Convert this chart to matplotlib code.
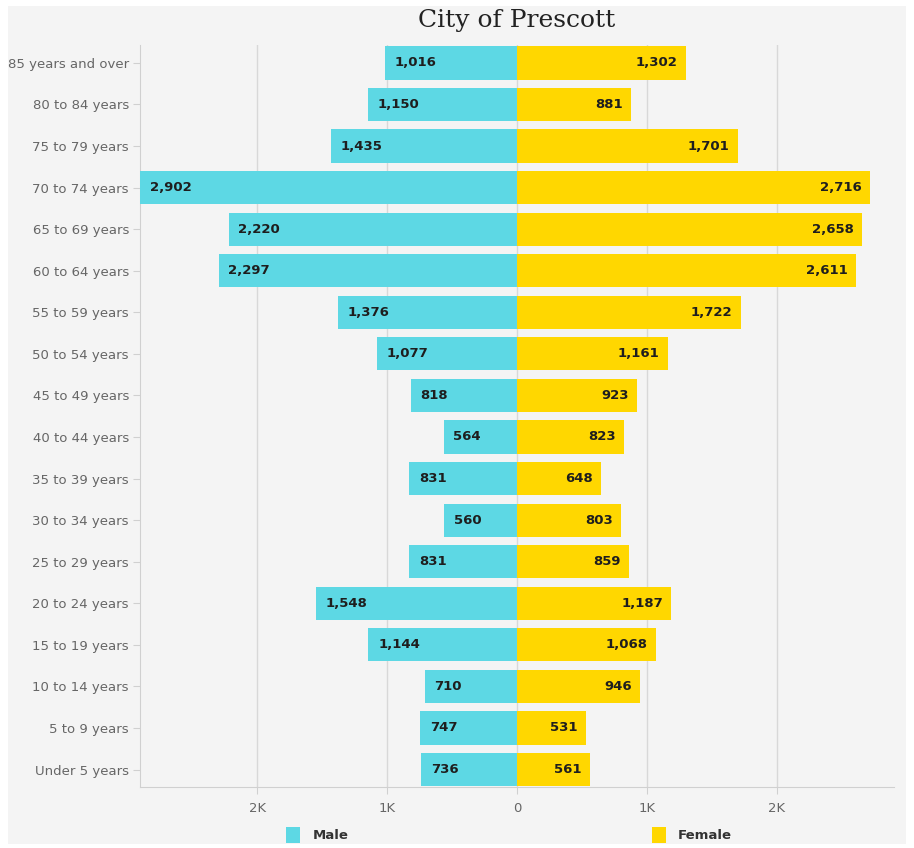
import matplotlib
matplotlib.use("Agg")
import matplotlib.pyplot as plt
from matplotlib.patches import Rectangle, Patch
from matplotlib.ticker import FixedLocator, FuncFormatter

age_groups = [
    "Under 5 years", "5 to 9 years", "10 to 14 years", "15 to 19 years",
    "20 to 24 years", "25 to 29 years", "30 to 34 years", "35 to 39 years",
    "40 to 44 years", "45 to 49 years", "50 to 54 years", "55 to 59 years",
    "60 to 64 years", "65 to 69 years", "70 to 74 years", "75 to 79 years",
    "80 to 84 years", "85 years and over",
]
male = [736, 747, 710, 1144, 1548, 831, 560, 831, 564, 818, 1077, 1376,
        2297, 2220, 2902, 1435, 1150, 1016]
female = [561, 531, 946, 1068, 1187, 859, 803, 648, 823, 923, 1161, 1722,
          2611, 2658, 2716, 1701, 881, 1302]

MALE_COLOR = "#5dd8e4"
FEMALE_COLOR = "#ffd700"
BG = "#f4f4f4"

fig = plt.figure(figsize=(9.14, 8.48), dpi=100, facecolor="white")
fig.patches.append(Rectangle((8 / 914, 4 / 848), 898 / 914, 838 / 848,
                             transform=fig.transFigure, facecolor=BG,
                             edgecolor="none", zorder=-10))

ax = fig.add_axes([140 / 914, 1 - 787 / 848, 754 / 914, 742 / 848])
ax.set_facecolor(BG)

y = list(range(len(age_groups)))
ax.barh(y, [-m for m in male], height=0.8, color=MALE_COLOR, zorder=3)
ax.barh(y, female, height=0.8, color=FEMALE_COLOR, zorder=3)

for i, (m, f) in enumerate(zip(male, female)):
    ax.annotate(f"{m:,}", (-m, i), xytext=(7, 0), textcoords="offset points",
                ha="left", va="center", fontsize=9.5, fontweight="bold",
                color="#1e1e1e", zorder=4)
    ax.annotate(f"{f:,}", (f, i), xytext=(-6, 0), textcoords="offset points",
                ha="right", va="center", fontsize=9.5, fontweight="bold",
                color="#1e1e1e", zorder=4)

ax.set_xlim(-2902, 2902)
ax.set_ylim(-0.42, 17.43)
ax.set_yticks(y)
ax.set_yticklabels(age_groups)
ax.xaxis.set_major_locator(FixedLocator([-2000, -1000, 0, 1000, 2000]))
ax.xaxis.set_major_formatter(FuncFormatter(
    lambda v, p: "0" if v == 0 else f"{abs(v) / 1000:.0f}K"))

ax.grid(axis="x", color="#d8d8d8", linewidth=1, zorder=0)
for side in ["top", "right"]:
    ax.spines[side].set_visible(False)
for side in ["left", "bottom"]:
    ax.spines[side].set_color("#d0d0d0")
ax.tick_params(axis="y", colors="#d0d0d0", labelcolor="#666666",
               labelsize=9.5, length=5, pad=3)
ax.tick_params(axis="x", colors="#d0d0d0", labelcolor="#666666",
               labelsize=9.5, length=5, pad=6)

fig.text(517 / 914, 1 - 20 / 848, "City of Prescott", ha="center",
         va="center", fontsize=18, family="DejaVu Serif", color="#222222")

handles = [Patch(facecolor=MALE_COLOR, label="Male"),
           Patch(facecolor=FEMALE_COLOR, label="Female")]
fig.legend(handles=handles, loc="center", bbox_to_anchor=(509 / 914, 1 - 835 / 848),
           ncol=2, frameon=False, columnspacing=23, handlelength=1.1,
           handleheight=1.6, handletextpad=0.9,
           prop={"size": 9.5, "weight": "bold"}, labelcolor="#333333")

fig.savefig("out.png", dpi=100, facecolor=fig.get_facecolor())
